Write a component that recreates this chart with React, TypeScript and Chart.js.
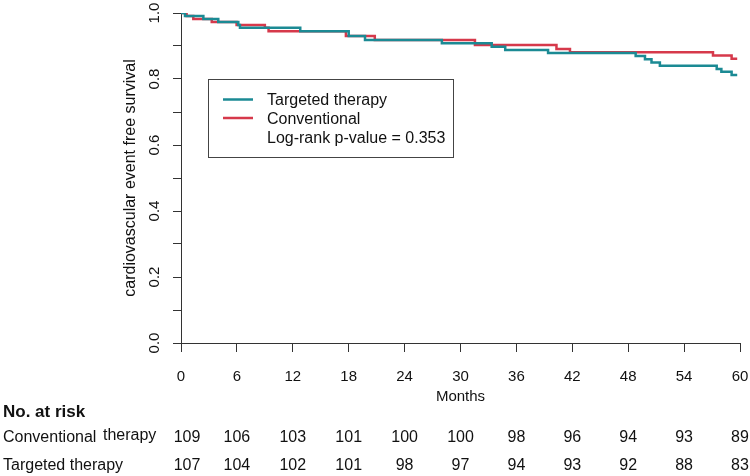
import React, { useEffect, useRef } from "react";
import { Chart, registerables } from "chart.js";

Chart.register(...registerables);

// ---- data ----
const targetedTimes = [0, 0.43, 2.4, 4.0, 6.15, 6.33, 12.8, 18.0, 19.75, 28.0, 33.35, 34.8, 39.4, 48.8, 49.8, 50.5, 51.4, 57.5, 58.0, 59.1, 59.7];
const targetedSurv = [1.0, 0.991, 0.982, 0.973, 0.964, 0.955, 0.945, 0.93, 0.918, 0.908, 0.898, 0.888, 0.879, 0.87, 0.86, 0.85, 0.84, 0.83, 0.822, 0.812, 0.812];
const conventionalTimes = [0, 0.6, 1.32, 3.3, 5.97, 9.0, 9.4, 17.7, 20.8, 31.55, 40.3, 41.75, 57.1, 59.1, 59.7];
const conventionalSurv = [1.0, 0.991, 0.982, 0.973, 0.964, 0.955, 0.945, 0.93, 0.918, 0.903, 0.891, 0.881, 0.871, 0.861, 0.861];

const riskMonths = [0, 6, 12, 18, 24, 30, 36, 42, 48, 54, 60];
const riskConventional = [109, 106, 103, 101, 100, 100, 98, 96, 94, 93, 89];
const riskTargeted = [107, 104, 102, 101, 98, 97, 94, 93, 92, 88, 83];
const yLabelValues = [0, 0.2, 0.4, 0.6, 0.8, 1.0];

const seriesNames = ["Targeted therapy", "Conventional"];
const seriesColors = ["#1b8a94", "#d6394b"];
const pValueText = "Log-rank p-value = 0.353";
const xTitle = "Months";
const yTitle = "cardiovascular event free survival";
const riskTitle = "No. at risk";

const FONT = '"Liberation Sans", Arial, Helvetica, sans-serif';
const TEXT = "#111";
const AXIS = "#333";

const annotations = {
  id: "kmAnnotations",
  afterDraw(chart: any) {
    const ctx = chart.ctx as CanvasRenderingContext2D;
    const xs = chart.scales.x;
    const ys = chart.scales.y;
    const ca = chart.chartArea;
    ctx.save();
    ctx.fillStyle = TEXT;
    ctx.textBaseline = "alphabetic";

    // y tick labels (rotated, R style)
    ctx.font = `15px ${FONT}`;
    ctx.textAlign = "center";
    for (const v of yLabelValues) {
      ctx.save();
      ctx.translate(ca.left - 22, ys.getPixelForValue(v));
      ctx.rotate(-Math.PI / 2);
      ctx.fillText(v.toFixed(1), 0, 0);
      ctx.restore();
    }

    // y title
    ctx.font = `16px ${FONT}`;
    ctx.save();
    ctx.translate(ca.left - 46, (ca.top + ca.bottom) / 2);
    ctx.rotate(-Math.PI / 2);
    ctx.fillText(yTitle, 0, 0);
    ctx.restore();

    // x title
    ctx.font = `15px ${FONT}`;
    ctx.fillText(xTitle, (ca.left + ca.right) / 2, 401);

    // risk table
    ctx.textAlign = "left";
    ctx.font = `bold 17px ${FONT}`;
    ctx.fillText(riskTitle, 3, 417);
    ctx.font = `16px ${FONT}`;
    ctx.fillText("Conventional", 3, 442);
    ctx.fillText("therapy", 103, 440);
    ctx.fillText("Targeted therapy", 3, 470);
    ctx.textAlign = "center";
    riskMonths.forEach((m, i) => {
      const px = xs.getPixelForValue(m) + (i === 0 ? 6 : 0);
      ctx.fillText(String(riskConventional[i]), px, 442);
      ctx.fillText(String(riskTargeted[i]), px, 470);
    });

    // legend box
    const bx = 208.5, by = 79.5, bw = 245, bh = 78;
    ctx.fillStyle = "#fff";
    ctx.fillRect(bx, by, bw, bh);
    ctx.strokeStyle = "#444";
    ctx.lineWidth = 1;
    ctx.strokeRect(bx, by, bw, bh);
    const rows = [99.5, 118];
    chart.data.datasets.forEach((ds: any, i: number) => {
      ctx.strokeStyle = ds.borderColor;
      ctx.lineWidth = 2.5;
      ctx.beginPath();
      ctx.moveTo(223, rows[i]);
      ctx.lineTo(253, rows[i]);
      ctx.stroke();
      ctx.fillStyle = TEXT;
      ctx.textAlign = "left";
      ctx.font = `16px ${FONT}`;
      ctx.fillText(ds.label, 267, rows[i] + 5.7);
    });
    ctx.fillText(pValueText, 267, 143.3);
    ctx.restore();
  },
};

export default function App() {
  const ref = useRef<HTMLCanvasElement | null>(null);
  useEffect(() => {
    if (!ref.current) return;
    const chart = new Chart(ref.current, {
      type: "line",
      data: {
        datasets: [
          {
            label: seriesNames[0],
            data: targetedTimes.map((t, i) => ({ x: t, y: targetedSurv[i] })),
            borderColor: seriesColors[0],
            backgroundColor: seriesColors[0],
            borderWidth: 2.5,
            pointRadius: 0,
            stepped: "before",
            fill: false,
          },
          {
            label: seriesNames[1],
            data: conventionalTimes.map((t, i) => ({ x: t, y: conventionalSurv[i] })),
            borderColor: seriesColors[1],
            backgroundColor: seriesColors[1],
            borderWidth: 2.5,
            pointRadius: 0,
            stepped: "before",
            fill: false,
          },
        ],
      },
      options: {
        responsive: false,
        animation: false,
        devicePixelRatio: 1,
        layout: { padding: { left: 0, right: 10, top: 13, bottom: 0 } },
        plugins: { legend: { display: false }, tooltip: { enabled: false } },
        scales: {
          x: {
            type: "linear",
            min: 0,
            max: 60,
            afterFit: (s: any) => {
              s.height = 133;
              s.paddingLeft = 0;
              s.paddingRight = 0;
            },
            ticks: {
              stepSize: 6,
              color: TEXT,
              font: { family: FONT, size: 15 },
              padding: 16,
              maxRotation: 0,
              autoSkip: false,
            },
            grid: { drawOnChartArea: false, drawTicks: true, tickLength: 9, color: AXIS, lineWidth: 1 },
            border: { display: true, color: AXIS, width: 1 },
          },
          y: {
            type: "linear",
            min: 0,
            max: 1,
            afterFit: (s: any) => {
              s.width = 181;
              s.paddingTop = 0;
              s.paddingBottom = 0;
            },
            ticks: { stepSize: 0.1, display: false },
            grid: { drawOnChartArea: false, drawTicks: true, tickLength: 8, color: AXIS, lineWidth: 1 },
            border: { display: true, color: AXIS, width: 1 },
          },
        },
      },
      plugins: [annotations],
    });
    return () => chart.destroy();
  }, []);
  return (
    <div style={{ position: "absolute", left: 0, top: 0, width: 750, height: 476, background: "#fff" }}>
      <canvas ref={ref} width={750} height={476} style={{ display: "block" }} />
    </div>
  );
}
